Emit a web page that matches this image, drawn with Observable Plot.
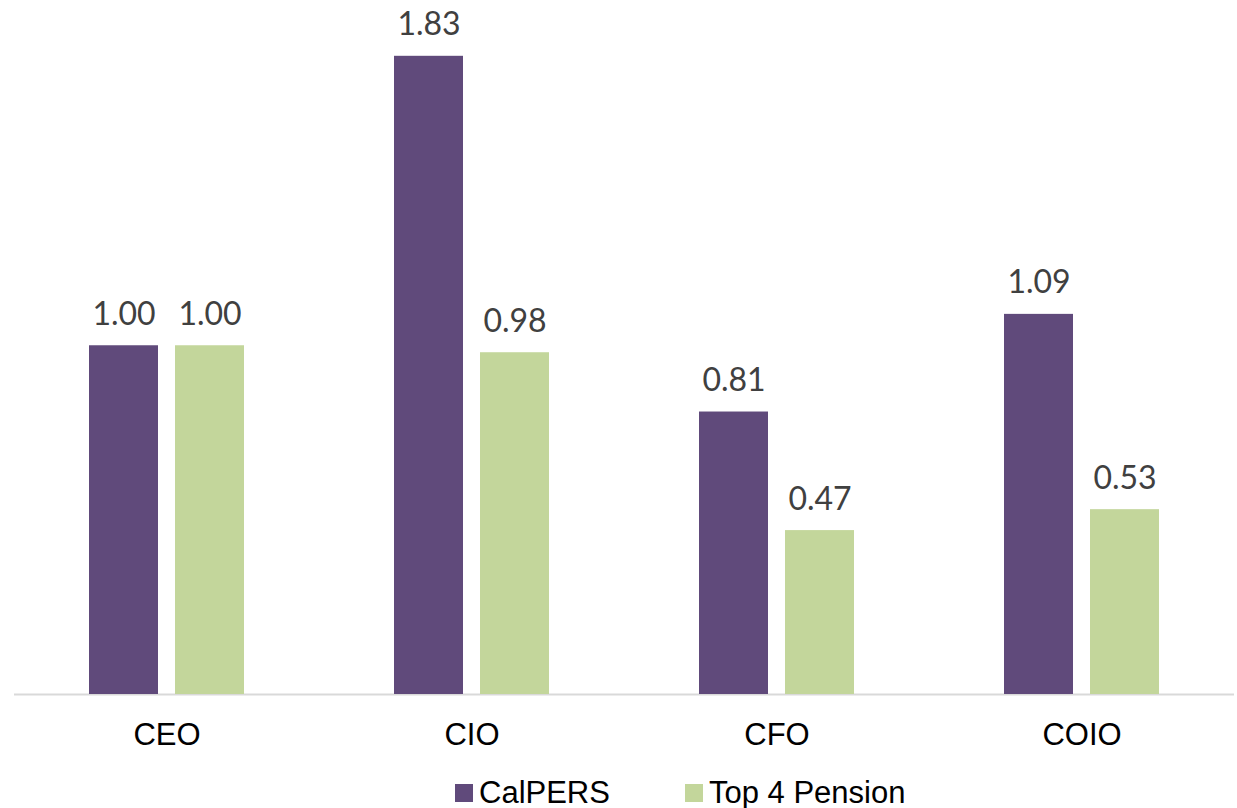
<!DOCTYPE html>
<html><head><meta charset="utf-8">
<script src="https://cdn.jsdelivr.net/npm/d3@7"></script>
<script src="https://cdn.jsdelivr.net/npm/@observablehq/plot@0.6"></script>
<style>
body{margin:0;background:#fff;}
#legend{position:relative;height:38px;font-family:"Liberation Sans",Arial,sans-serif;font-size:31px;color:#000;}
.item{position:absolute;top:0;height:38px;display:flex;align-items:center;}
.sw{width:18px;height:18px;margin-right:6px;display:inline-block;}
</style>
</head><body>
<div id="chart"></div>
<div id="legend"></div>
<script>
const categories = ["CEO", "CIO", "CFO", "COIO"];
const series = ["CalPERS", "Top 4 Pension"];
const calpersValues = [1.00, 1.83, 0.81, 1.09];
const top4Values = [1.00, 0.98, 0.47, 0.53];
const colors = ["#604A7B", "#C3D69B"];

const data = categories.flatMap((c, i) => [
  {category: c, series: series[0], value: calpersValues[i]},
  {category: c, series: series[1], value: top4Values[i]}
]);

const chart = Plot.plot({
  width: 1237, height: 770,
  marginLeft: 14, marginRight: 3, marginTop: 0, marginBottom: 76,
  style: {fontFamily: "Liberation Sans, Arial, sans-serif", background: "#fff"},
  fx: {domain: categories, padding: 0, label: null},
  x: {domain: series, paddingInner: 0.1954, paddingOuter: 0.8506, axis: null},
  y: {domain: [0, 1.99], axis: null},
  color: {domain: series, range: colors},
  marks: [
    Plot.ruleY([0], {stroke: "#d9d9d9", strokeWidth: 2}),
    Plot.barY(data, {fx: "category", x: "series", y: "value", fill: "series"}),
    Plot.text(data, {fx: "category", x: "series", y: "value", text: d => d.value.toFixed(2),
      lineAnchor: "bottom", dy: -21, fill: "#404040", fontSize: 32, fontFamily: "Lato"}),
    Plot.axisFx({anchor: "bottom", tickSize: 0, tickPadding: 28, fontSize: 31,
      fontFamily: "Liberation Sans, Arial, sans-serif", fill: "#000", label: null})
  ]
});
document.getElementById("chart").appendChild(chart);

const legendPositions = [455, 685];
const legend = document.getElementById("legend");
series.forEach((s, i) => {
  const item = document.createElement("div");
  item.className = "item";
  item.style.left = legendPositions[i] + "px";
  item.style.top = "4px";
  const sw = document.createElement("span");
  sw.className = "sw";
  sw.style.background = colors[i];
  item.appendChild(sw);
  item.appendChild(document.createTextNode(s));
  legend.appendChild(item);
});
</script>
</body></html>
